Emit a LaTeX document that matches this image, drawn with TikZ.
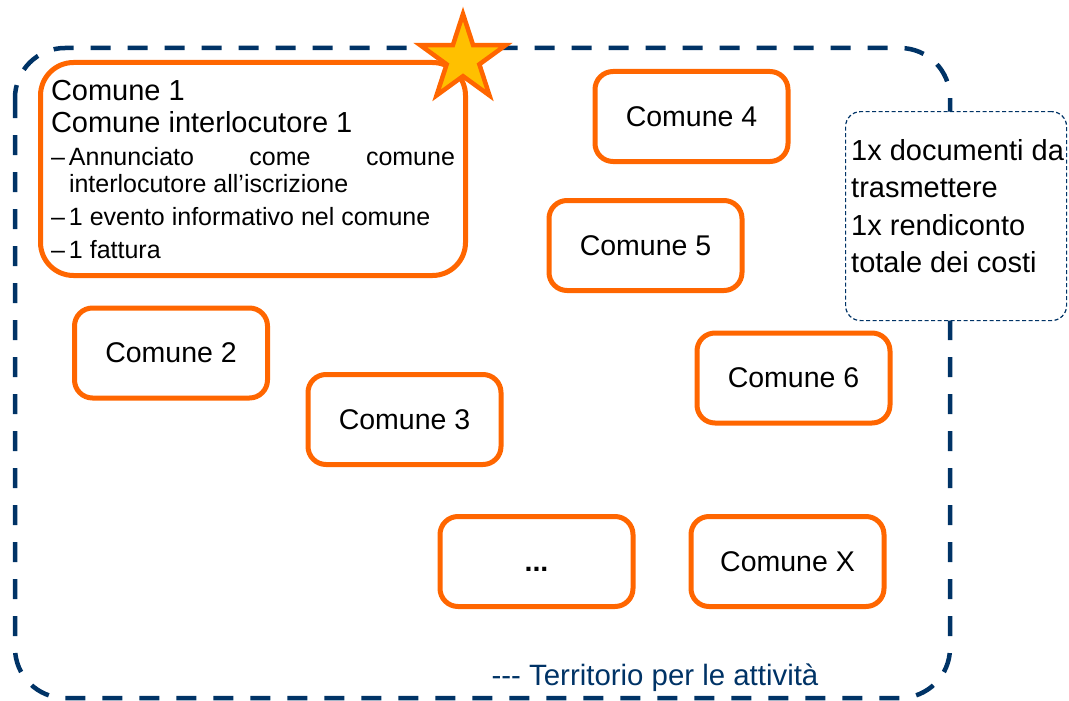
\documentclass[tikz,border=0pt]{standalone}
\usepackage{fontspec}
\setmainfont{Liberation Sans}
\usetikzlibrary{shapes.geometric}
\definecolor{navy}{RGB}{0,51,102}
\definecolor{arancio}{RGB}{255,102,0}
\definecolor{oro}{RGB}{255,192,0}
\newcommand{\punto}[1]{\par\vspace{6pt}\hangindent=18pt\hangafter=1\noindent\makebox[18pt][l]{\textendash}#1}

\begin{document}
\begin{tikzpicture}[x=1pt, y=-1pt,
  comune/.style={draw=arancio, line width=5pt, rounded corners=18pt, fill=white,
    minimum width=193pt, minimum height=90pt, font=\fontsize{28.5}{34}\selectfont},
  territorio/.style={draw=navy, line width=4.5pt, dash pattern=on 20pt off 17pt, rounded corners=50pt},
  notebox/.style={draw=navy, line width=1.2pt, dash pattern=on 4pt off 2.5pt, rounded corners=15pt, fill=white}]
\useasboundingbox (0,0) rectangle (1069,701);

\draw[territorio] (15,48) rectangle (950,698);

\node[comune, minimum width=425pt, minimum height=213pt, rounded corners=33pt,
  text width=404pt, align=justify, inner sep=0pt] (c1) at (253,169)
  {\hyphenpenalty=10000\exhyphenpenalty=10000
   \fontsize{29}{32}\selectfont Comune 1\par Comune interlocutore 1\par
   \fontsize{25}{27}\selectfont
   \punto{Annunciato come comune interlocutore all’iscrizione}
   \punto{1 evento informativo nel comune}
   \punto{1 fattura}\par};

\node[comune] (c2) at (171,353) {Comune 2};
\node[comune] (c3) at (404.5,419.5) {Comune 3};
\node[comune] (c4) at (691.5,116.5) {Comune 4};
\node[comune] (c5) at (645.5,245.5) {Comune 5};
\node[comune] (c6) at (793.5,378) {Comune 6};
\node[comune] (dots) at (536.5,561.5) {\vphantom{Comune}\textbf{...}};
\node[comune] (cx) at (787.5,561.5) {Comune X};

\node[notebox, minimum width=221pt, minimum height=209pt, anchor=north west] (note) at (845,111) {};
\node[anchor=west, align=left, inner sep=0pt, font=\fontsize{29}{37.5}\selectfont] (notetext) at (851,206)
  {1x documenti da\\trasmettere\\1x rendiconto\\totale dei costi};

\node[text=navy, font=\fontsize{29.4}{34}\selectfont] (lbl) at (655,678) {-{}-{}- Territorio per le attività};

\node[star, star points=5, star point ratio=2.618, minimum size=90pt, inner sep=0pt,
  draw=arancio, fill=oro, line width=4.5pt] (stella) at (463,59) {};
\end{tikzpicture}
\end{document}
